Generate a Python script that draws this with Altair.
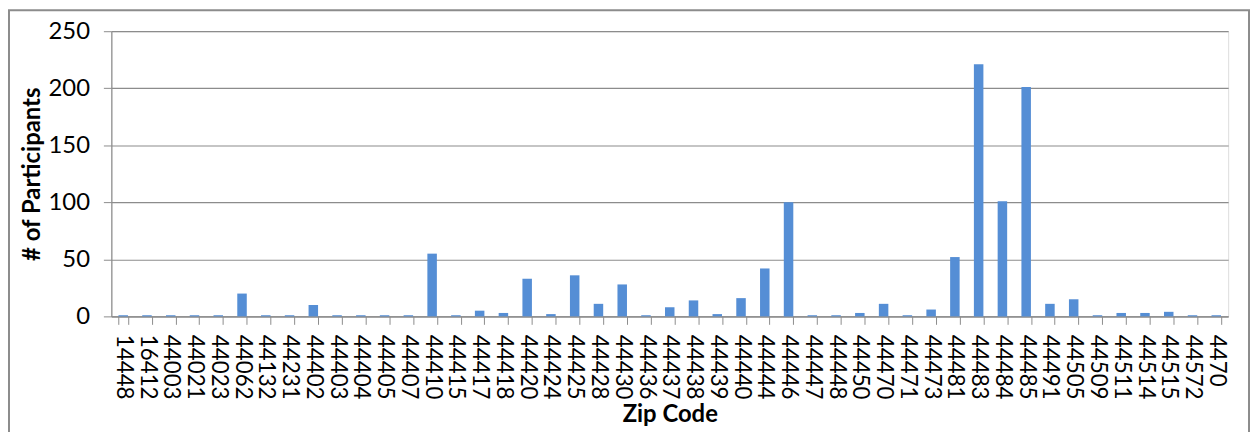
import altair as alt
import pandas as pd

zip_codes = ["14448", "16412", "44003", "44021", "44023", "44062", "44132", "44231",
             "44402", "44403", "44404", "44405", "44407", "44410", "44415", "44417",
             "44418", "44420", "44424", "44425", "44428", "44430", "44436", "44437",
             "44438", "44439", "44440", "44444", "44446", "44447", "44448", "44450",
             "44470", "44471", "44473", "44481", "44483", "44484", "44485", "44491",
             "44505", "44509", "44511", "44514", "44515", "44572", "4470"]
participants = [1, 1, 1, 1, 1, 20, 1, 1,
                10, 1, 1, 1, 1, 55, 1, 5,
                3, 33, 2, 36, 11, 28, 1, 8,
                14, 2, 16, 42, 100, 1, 1, 3,
                11, 1, 6, 52, 221, 101, 201, 11,
                15, 1, 3, 3, 4, 1, 1]
y_ticks = [0, 50, 100, 150, 200, 250]

df = pd.DataFrame({"zip": zip_codes, "n": participants})

FONT = "Lato"
W, H = 1124, 287

bars = alt.Chart(df).mark_bar(color="#558ED5").encode(
    x=alt.X("zip:N", sort=zip_codes,
            scale=alt.Scale(paddingInner=0.6, paddingOuter=0.3),
            axis=alt.Axis(title="Zip Code", labelAngle=90, labelAlign="left",
                          labelBaseline="middle", labelFontSize=22.5, labelFont=FONT,
                          labelColor="#000000", labelPadding=10,
                          tickBand="extent", tickSize=8, tickColor="#8C8C8C",
                          domainColor="#8C8C8C", domainWidth=1.2,
                          titleFont=FONT, titleFontSize=24, titleFontWeight="bold",
                          titleColor="#000000", titleY=106, titleX=W / 2,
                          titleBaseline="alphabetic", titleAlign="center",
                          labelOverlap=False, grid=False)),
    y=alt.Y("n:Q", scale=alt.Scale(domain=[0, 250], nice=False),
            axis=alt.Axis(title="# of Participants", values=y_ticks,
                          labelFontSize=24, labelFont=FONT, labelColor="#000000",
                          labelPadding=14, tickSize=8, tickColor="#8C8C8C",
                          domainColor="#8C8C8C", domainWidth=1.2,
                          gridColor="#8C8C8C", gridWidth=1.2,
                          titleFont=FONT, titleFontSize=24, titleFontWeight="bold",
                          titleColor="#000000", titleAngle=-90, titleX=-79,
                          titleY=H / 2, titleBaseline="middle", titleAlign="center")),
)

frame = alt.Chart(alt.Data(values=[{"a": 1}])).mark_rect(
    fill=None, stroke="#8C8C8C", strokeWidth=2
).encode(x=alt.value(-103), x2=alt.value(1145), y=alt.value(-21), y2=alt.value(500))

chart = alt.layer(bars, frame).properties(
    width=W, height=H,
    autosize=alt.AutoSizeParams(type="none"),
    padding={"left": 104, "top": 22, "right": 23, "bottom": 115},
).configure_view(stroke=None).configure(background="white")

chart.save("out.html", embed_options={"renderer": "svg", "actions": False})
